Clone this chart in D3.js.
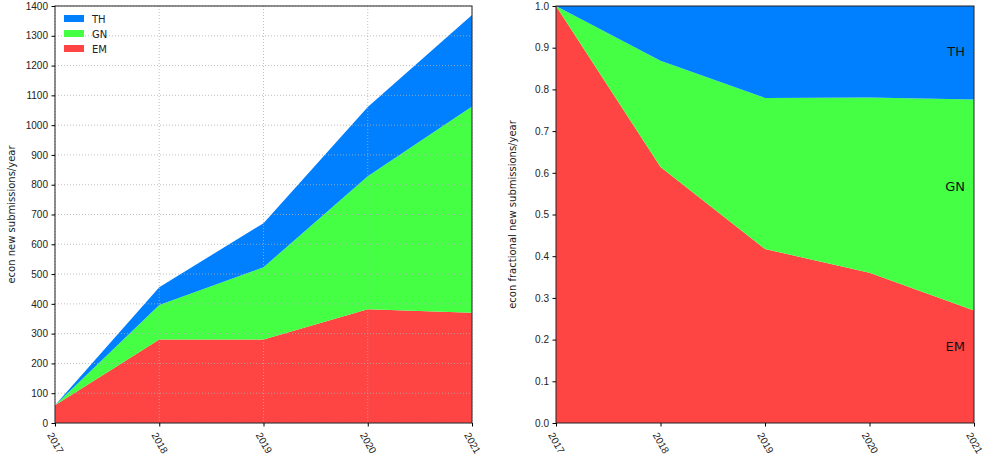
<!DOCTYPE html>
<html>
<head>
<meta charset="utf-8">
<script src="https://cdn.jsdelivr.net/npm/d3@7"></script>
<style>
body { margin: 0; background: #fff; }
svg { font-family: "DejaVu Sans", sans-serif; }
.tick text { font-size: 10px; fill: #222; }
</style>
</head>
<body>
<svg id="vis" width="990" height="455"></svg>
<script>
// data
var years = [2017, 2018, 2019, 2020, 2021];
var em = [60, 280, 280, 382, 370];
var gn = [0, 116, 243, 446, 693];
var th = [0, 60, 148, 233, 307];
var keys = ["EM", "GN", "TH"];
var colors = { EM: "#ff4444", GN: "#44ff44", TH: "#007fff" };
var yTicksAbs = d3.range(0, 1401, 100);
var yTicksFrac = d3.range(0, 1.001, 0.1);
var sideLabels = [{ key: "TH", y: 0.89 }, { key: "GN", y: 0.568 }, { key: "EM", y: 0.183 }];

var rows = years.map(function (y, i) {
    return { year: y, EM: em[i], GN: gn[i], TH: th[i] };
});
var fracRows = rows.map(function (d) {
    var t = d.EM + d.GN + d.TH;
    return { year: d.year, EM: d.EM / t, GN: d.GN / t, TH: d.TH / t };
});

var svg = d3.select("#vis");
var stack = d3.stack().keys(keys);

function panel(x0, x1, data, ymax, ticks, fmt, label, grid) {
    var top = 6, bottom = 423;
    var x = d3.scaleLinear().domain([2017, 2021]).range([x0, x1]);
    var y = d3.scaleLinear().domain([0, ymax]).range([bottom, top]);
    var g = svg.append("g");

    var area = d3.area()
        .x(function (d) { return x(d.data.year); })
        .y0(function (d) { return y(d[0]); })
        .y1(function (d) { return y(d[1]); });

    g.selectAll(".layer")
        .data(stack(data))
        .enter().append("path")
        .attr("class", "layer")
        .attr("fill", function (d) { return colors[d.key]; })
        .attr("d", area);

    if (grid) {
        g.selectAll(".gy").data(ticks).enter().append("line")
            .attr("x1", x0).attr("x2", x1)
            .attr("y1", function (d) { return y(d); })
            .attr("y2", function (d) { return y(d); })
            .attr("stroke", "#b0b0b0").attr("stroke-opacity", 0.8)
            .attr("stroke-dasharray", "1,2");
        g.selectAll(".gx").data(years).enter().append("line")
            .attr("y1", top).attr("y2", bottom)
            .attr("x1", function (d) { return x(d); })
            .attr("x2", function (d) { return x(d); })
            .attr("stroke", "#b0b0b0").attr("stroke-opacity", 0.8)
            .attr("stroke-dasharray", "1,2");
    }

    // frame
    g.append("rect")
        .attr("x", x0).attr("y", top)
        .attr("width", x1 - x0).attr("height", bottom - top)
        .attr("fill", "none").attr("stroke", "#222").attr("stroke-width", 1);

    var ya = g.append("g")
        .attr("transform", "translate(" + x0 + ",0)")
        .call(d3.axisLeft(y).tickValues(ticks).tickFormat(fmt).tickSizeOuter(0).tickSize(3.5).tickPadding(3.5));
    ya.select(".domain").remove();

    var xa = g.append("g")
        .attr("transform", "translate(0," + bottom + ")")
        .call(d3.axisBottom(x).tickValues(years).tickFormat(d3.format("d")).tickSizeOuter(0).tickSize(3.5));
    xa.select(".domain").remove();
    xa.selectAll(".tick text")
        .attr("text-anchor", "middle")
        .attr("dy", "0.35em")
        .attr("y", 0)
        .attr("transform", "translate(0,20) rotate(60)");

    g.append("text")
        .attr("transform", "translate(" + (x0 - 40) + "," + ((top + bottom) / 2) + ") rotate(-90)")
        .attr("text-anchor", "middle")
        .style("font-size", "10px")
        .attr("fill", "#222")
        .text(label);

    return { x: x, y: y, g: g };
}

var left = panel(55, 472, rows, 1400, yTicksAbs, d3.format("d"), "econ new submissions/year", true);
var right = panel(556, 974, fracRows, 1, yTicksFrac, d3.format(".1f"), "econ fractional new submissions/year", false);

// legend
var legend = left.g.selectAll(".legend")
    .data(keys.slice().reverse())
    .enter().append("g")
    .attr("class", "legend")
    .attr("transform", function (d, i) { return "translate(64," + (15 + i * 15) + ")"; });
legend.append("rect")
    .attr("width", 20).attr("height", 7)
    .attr("fill", function (d) { return colors[d]; });
legend.append("text")
    .attr("x", 28).attr("y", 4).attr("dy", ".35em")
    .style("font-size", "10px").attr("fill", "#222")
    .text(function (d) { return d; });

// labels on the fractional plot
right.g.selectAll(".side")
    .data(sideLabels)
    .enter().append("text")
    .attr("x", 965)
    .attr("y", function (d) { return right.y(d.y); })
    .attr("dy", ".35em")
    .attr("text-anchor", "end")
    .style("font-size", "13px")
    .attr("fill", "#111")
    .text(function (d) { return d.key; });
</script>
</body>
</html>
